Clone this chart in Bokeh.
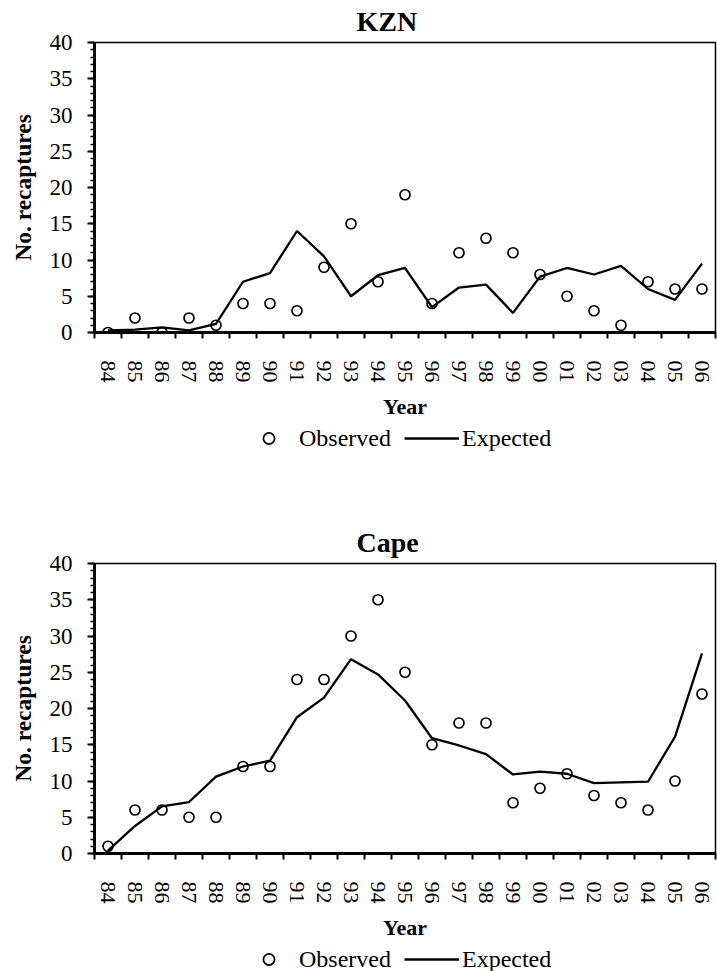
from bokeh.plotting import figure
from bokeh.models import (Range1d, FixedTicker, SingleIntervalTicker, Legend,
                          LegendItem, ColumnDataSource)
from bokeh.layouts import column
from bokeh.embed import file_html
from bokeh.resources import INLINE

years = ["84", "85", "86", "87", "88", "89", "90", "91", "92", "93", "94", "95",
         "96", "97", "98", "99", "00", "01", "02", "03", "04", "05", "06"]

kzn_observed = [0, 2, 0, 2, 1, 4, 4, 3, 9, 15, 7, 19, 4, 11, 13, 11, 8, 5, 3, 1, 7, 6, 6]
kzn_expected = [0.3, 0.4, 0.7, 0.3, 1.2, 7.0, 8.2, 14.0, 10.5, 5.0, 7.9, 8.9, 3.5,
                6.2, 6.6, 2.7, 7.7, 8.9, 8.0, 9.2, 6.0, 4.5, 9.5]

cape_observed = [1, 6, 6, 5, 5, 12, 12, 24, 24, 30, 35, 25, 15, 18, 18, 7, 9, 11, 8, 7, 6, 10, 22]
cape_expected = [0.4, 3.8, 6.5, 7.1, 10.6, 12.0, 12.8, 18.8, 21.5, 26.8, 24.7, 21.1, 15.9,
                 14.9, 13.7, 10.9, 11.3, 11.0, 9.7, 9.8, 9.9, 16.1, 27.6]

y_ticks_major = 5
y_max = 40

FONT = "Liberation Serif"
W = 717
OBS_STYLE = dict(marker="circle", size=10, fill_alpha=0, line_color="black", line_width=1.7)
EXP_STYLE = dict(line_color="black", line_width=2.3)


def make_source(observed, expected):
    return ColumnDataSource(dict(x=list(range(len(years))), obs=observed, exp=expected))


def make_panel(title, src):
    n = len(years)
    idx = list(range(n))
    p = figure(width=W, height=424, output_backend="svg", toolbar_location=None,
               x_range=Range1d(-0.5, n - 0.5), y_range=Range1d(0, y_max),
               min_border_left=94, min_border_right=2, min_border_top=42,
               min_border_bottom=92)
    p.title.text = title
    p.title.text_font = FONT
    p.title.text_font_size = "28px"
    p.title.text_font_style = "bold"
    p.title.text_color = "black"
    p.title.align = "left"
    p.title.offset = 262
    p.title.vertical_align = "top"
    p.title.standoff = 8
    p.grid.visible = False
    p.outline_line_color = "black"
    p.outline_line_width = 1.5
    p.background_fill_color = "white"
    p.border_fill_color = "white"

    p.line("x", "exp", source=src, **EXP_STYLE)
    p.scatter("x", "obs", source=src, **OBS_STYLE)

    xa = p.xaxis[0]
    xa.ticker = FixedTicker(ticks=idx, minor_ticks=[i - 0.5 for i in range(n + 1)])
    xa.major_label_overrides = {i: years[i] for i in idx}
    xa.major_tick_out = 0
    xa.major_tick_in = 0
    xa.major_tick_line_color = None
    xa.minor_tick_out = 6
    xa.minor_tick_in = 0
    xa.minor_tick_line_color = "black"
    xa.minor_tick_line_width = 2
    xa.axis_line_color = "black"
    xa.axis_line_width = 3
    xa.major_label_orientation = "vertical"
    xa.major_label_standoff = 22
    xa.major_label_text_font = FONT
    xa.major_label_text_font_size = "22px"
    xa.major_label_text_color = "black"
    xa.axis_label = "Year"
    xa.axis_label_text_font = FONT
    xa.axis_label_text_font_size = "22px"
    xa.axis_label_text_font_style = "bold"
    xa.axis_label_text_color = "black"
    xa.axis_label_standoff = 8

    ya = p.yaxis[0]
    ya.ticker = SingleIntervalTicker(interval=y_ticks_major, num_minor_ticks=5)
    ya.major_tick_out = 7
    ya.major_tick_in = 0
    ya.minor_tick_out = 4
    ya.minor_tick_in = 0
    ya.major_tick_line_color = "black"
    ya.minor_tick_line_color = "black"
    ya.major_tick_line_width = 2
    ya.minor_tick_line_width = 1.5
    ya.axis_line_color = "black"
    ya.axis_line_width = 3
    ya.major_label_standoff = 15
    ya.major_label_text_font = FONT
    ya.major_label_text_font_size = "23px"
    ya.major_label_text_color = "black"
    ya.axis_label = "No. recaptures"
    ya.axis_label_text_font = FONT
    ya.axis_label_text_font_size = "23.5px"
    ya.axis_label_text_font_style = "bold"
    ya.axis_label_text_color = "black"
    ya.axis_label_standoff = 11
    return p


def make_legend(src, height):
    # legend strip below each chart; its renderers share the chart's data,
    # which lies outside this strip's y range, so only the legend shows
    n = len(years)
    lp = figure(width=W, height=height, output_backend="svg", toolbar_location=None,
                x_range=Range1d(-0.5, n - 0.5), y_range=Range1d(-30, -20),
                x_axis_type=None, y_axis_type=None, min_border=0,
                min_border_left=94, min_border_right=2)
    lp.grid.visible = False
    lp.outline_line_color = None
    lp.background_fill_color = "white"
    lp.border_fill_color = "white"
    obs_r = lp.scatter("x", "obs", source=src, **OBS_STYLE)
    exp_r = lp.line("x", "exp", source=src, **EXP_STYLE)
    legend = Legend(items=[LegendItem(label="Observed", renderers=[obs_r]),
                           LegendItem(label="Expected", renderers=[exp_r])],
                    orientation="horizontal", location=(147, height - 28),
                    label_text_font=FONT, label_text_font_size="24px",
                    label_text_color="black",
                    glyph_width=55, glyph_height=28, label_standoff=3,
                    spacing=13, padding=0, margin=0,
                    border_line_alpha=0, background_fill_alpha=0)
    lp.add_layout(legend, "center")
    return lp


kzn_src = make_source(kzn_observed, kzn_expected)
cape_src = make_source(cape_observed, cape_expected)

p1 = make_panel("KZN", kzn_src)
l1 = make_legend(kzn_src, 97)
p2 = make_panel("Cape", cape_src)
l2 = make_legend(cape_src, 26)

layout = column(p1, l1, p2, l2, spacing=0)
open("out.html", "w").write(file_html(layout, INLINE))
